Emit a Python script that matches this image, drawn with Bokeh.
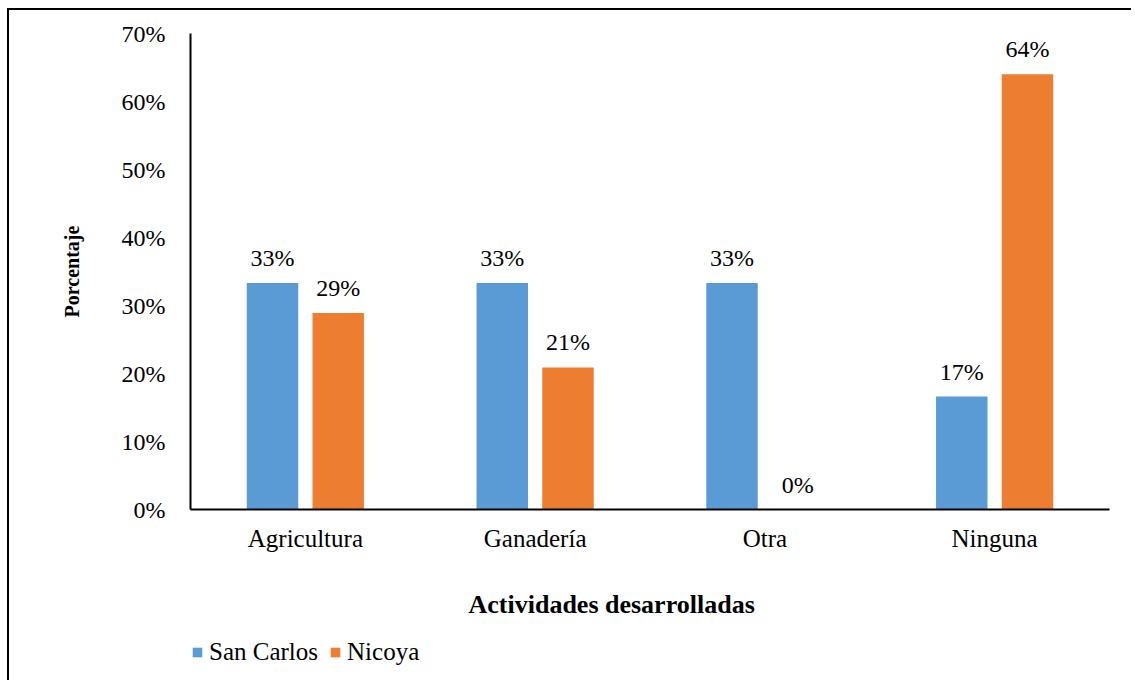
from bokeh.plotting import figure
from bokeh.models import (ColumnDataSource, FactorRange, Range1d, FixedTicker,
                          NumeralTickFormatter, LabelSet, Label, Legend, LegendItem, Spacer)
from bokeh.layouts import row, column
from bokeh.transform import dodge
from bokeh.embed import file_html
from bokeh.resources import INLINE

categories = ["Agricultura", "Ganadería", "Otra", "Ninguna"]
series_names = ["San Carlos", "Nicoya"]
san_carlos = [0.333, 0.333, 0.333, 0.166]
nicoya = [0.289, 0.209, 0.0, 0.640]
y_ticks = [0.0, 0.1, 0.2, 0.3, 0.4, 0.5, 0.6, 0.7]
x_title = "Actividades desarrolladas"
y_title = "Porcentaje"

FONT = "Liberation Serif"
BLUE = "#5B9BD5"
ORANGE = "#ED7D31"

src = ColumnDataSource(dict(
    cat=categories,
    sc=san_carlos,
    ni=nicoya,
    sc_lbl=["{:.0%}".format(v) for v in san_carlos],
    ni_lbl=["{:.0%}".format(v) for v in nicoya],
))

W = 1124
H_MAIN = 551
H_LEG = 121
off = 0.143
w = 0.224

p = figure(width=W, height=H_MAIN, x_range=FactorRange(*categories),
           y_range=Range1d(0, 0.7), output_backend="svg", toolbar_location=None,
           min_border_left=181, min_border_right=24, min_border_top=23,
           min_border_bottom=52)
p.styles = {"border-left": "2px solid #000", "border-top": "2px solid #000"}
p.outline_line_color = None
p.background_fill_color = "white"
p.border_fill_color = "white"
p.xgrid.grid_line_color = None
p.ygrid.grid_line_color = None

p.vbar(x=dodge("cat", -off, range=p.x_range), top="sc", width=w, source=src,
       fill_color=BLUE, line_color=None)
p.vbar(x=dodge("cat", off, range=p.x_range), top="ni", width=w, source=src,
       fill_color=ORANGE, line_color=None)

for col, lbl, o in (("sc", "sc_lbl", -off), ("ni", "ni_lbl", off)):
    ls = LabelSet(x=dodge("cat", o, range=p.x_range), y=col, text=lbl, source=src,
                  text_align="center", text_baseline="alphabetic", y_offset=17,
                  text_font=FONT, text_font_size="24px", text_color="#000000")
    p.add_layout(ls)

# y axis
p.yaxis.ticker = FixedTicker(ticks=y_ticks)
p.yaxis.formatter = NumeralTickFormatter(format="0%")
p.yaxis.major_tick_out = 0
p.yaxis.major_tick_in = 0
p.yaxis.minor_tick_out = 0
p.yaxis.minor_tick_in = 0
p.yaxis.axis_line_width = 2
p.yaxis.axis_line_color = "#000000"
p.yaxis.major_label_text_font = FONT
p.yaxis.major_label_text_font_size = "24px"
p.yaxis.major_label_text_color = "#000000"
p.yaxis.major_label_standoff = 25
p.yaxis.axis_label = y_title
p.yaxis.axis_label_text_font = FONT
p.yaxis.axis_label_text_font_size = "20px"
p.yaxis.axis_label_text_font_style = "bold"
p.yaxis.axis_label_text_color = "#000000"
p.yaxis.axis_label_standoff = 36

# x axis
p.xaxis.major_tick_out = 0
p.xaxis.major_tick_in = 0
p.xaxis.minor_tick_out = 0
p.xaxis.axis_line_width = 2
p.xaxis.axis_line_color = "#000000"
p.xaxis.major_label_text_font = FONT
p.xaxis.major_label_text_font_size = "25px"
p.xaxis.major_label_text_color = "#000000"
p.xaxis.major_label_standoff = 15

# lower strip: axis title and legend (same bars, outside its y range, feed the legend)
q = figure(width=W, height=H_LEG, x_range=p.x_range, y_range=Range1d(1, 2),
           x_axis_type=None, y_axis_type=None, output_backend="svg",
           toolbar_location=None, min_border=0)
q.styles = {"border-left": "2px solid #000"}
q.outline_line_color = None
q.background_fill_color = "white"
q.border_fill_color = "white"
q.xgrid.grid_line_color = None
q.ygrid.grid_line_color = None

q.add_layout(Label(x=278, y=H_LEG - 45, x_units="screen", y_units="screen",
                   text=x_title, text_font=FONT, text_font_size="26px",
                   text_font_style="bold", text_color="#000000",
                   text_align="left", text_baseline="alphabetic"))

q1 = q.vbar(x=dodge("cat", -off, range=q.x_range), top="sc", width=w, source=src,
            fill_color=BLUE, line_color=None)
q2 = q.vbar(x=dodge("cat", off, range=q.x_range), top="ni", width=w, source=src,
            fill_color=ORANGE, line_color=None)
legend = Legend(items=[LegendItem(label=series_names[0], renderers=[q1]),
                       LegendItem(label=series_names[1], renderers=[q2])],
                orientation="horizontal", location=(1, 14),
                glyph_width=12, glyph_height=12, label_standoff=6, spacing=11,
                padding=0, margin=0, border_line_color=None,
                background_fill_alpha=0, label_text_font=FONT,
                label_text_font_size="25px", label_text_color="#000000")
q.add_layout(legend, "center")

layout = row(Spacer(width=7, height=10),
             column(Spacer(width=10, height=8), p, q))

open("out.html", "w").write(file_html(layout, INLINE))
